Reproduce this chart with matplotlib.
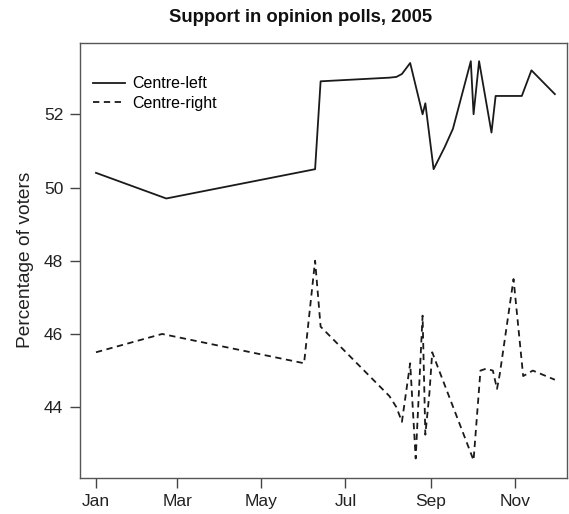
import numpy as np
import matplotlib
matplotlib.use("Agg")
import matplotlib.pyplot as plt
import matplotlib.dates as mdates

plt.rcParams['font.family'] = ['Liberation Sans', 'DejaVu Sans']

left_dates = ['2005-01-01', '2005-02-21', '2005-06-09', '2005-06-13', '2005-08-02',
              '2005-08-07', '2005-08-11', '2005-08-17', '2005-08-26', '2005-08-28',
              '2005-09-03', '2005-09-11', '2005-09-17', '2005-09-30', '2005-10-02',
              '2005-10-06', '2005-10-15', '2005-10-18', '2005-11-06', '2005-11-13',
              '2005-11-30']
left_values = [50.4, 49.7, 50.5, 52.9, 53.0,
               53.02, 53.1, 53.4, 52.0, 52.3,
               50.5, 51.1, 51.6, 53.45, 52.0,
               53.45, 51.5, 52.5, 52.5, 53.2,
               52.55]

right_dates = ['2005-01-01', '2005-02-18', '2005-06-01', '2005-06-09', '2005-06-13',
               '2005-08-02', '2005-08-07', '2005-08-11', '2005-08-17', '2005-08-21',
               '2005-08-26', '2005-08-28', '2005-08-31', '2005-09-02', '2005-09-06',
               '2005-10-02', '2005-10-07', '2005-10-11', '2005-10-16', '2005-10-19',
               '2005-10-21', '2005-10-31', '2005-11-07', '2005-11-14', '2005-11-30']
right_values = [45.5, 46.0, 45.2, 48.0, 46.2,
                44.3, 44.0, 43.6, 45.2, 42.6,
                46.5, 43.25, 44.4, 45.5, 45.1,
                42.55, 45.0, 45.05, 45.0, 44.5,
                44.9, 47.5, 44.85, 45.0, 44.75]

title = 'Support in opinion polls, 2005'
ylabel = 'Percentage of voters'
series_names = ['Centre-left', 'Centre-right']
yticks = [44, 46, 48, 50, 52]
xtick_dates = ['2005-01-01', '2005-03-01', '2005-05-01', '2005-07-01', '2005-09-01', '2005-11-01']
xtick_labels = ['Jan', 'Mar', 'May', 'Jul', 'Sep', 'Nov']

fig = plt.figure(figsize=(5.69, 5.14), dpi=100)
ax = fig.add_axes([80/569, 1 - 477.5/514, (567-80)/569, (477.5-42.5)/514])

ld = np.array(left_dates, dtype='datetime64[D]')
rd = np.array(right_dates, dtype='datetime64[D]')
ax.plot(ld, left_values, color='#1a1a1a', lw=1.3, linestyle='-', label=series_names[0])
ax.plot(rd, right_values, color='#1a1a1a', lw=1.3, linestyle=(0, (3.5, 2.5)), label=series_names[1])

x0 = np.datetime64('2005-01-01')
ax.set_xlim(mdates.date2num(x0) - 11.6, mdates.date2num(x0) + 341.8)
ax.set_ylim(42.08, 53.96)
ax.set_xticks(mdates.date2num(np.array(xtick_dates, dtype='datetime64[D]')))
ax.set_xticklabels(xtick_labels)
ax.set_yticks(yticks)
ax.set_yticklabels([str(v) for v in yticks])
ax.tick_params(direction='out', length=7, width=1.0, color='#444444', labelsize=12.5,
               labelcolor='#222222')
ax.tick_params(axis='x', pad=5)
ax.tick_params(axis='y', pad=5)
for s in ax.spines.values():
    s.set_color('#555555')
    s.set_linewidth(1.0)
ax.set_ylabel(ylabel, fontsize=13.8, color='#222222', labelpad=7)
fig.text(301/569, 1 - 18/514, title, ha='center', va='center', fontsize=13.3,
         fontweight='bold', color='#111111')
ax.legend(loc='upper left', frameon=False, fontsize=11.5, handlelength=2.0,
          handletextpad=0.45, labelspacing=0.3, bbox_to_anchor=(0.0, 0.952),
          borderaxespad=0.4)
fig.savefig('out.png', dpi=100)
